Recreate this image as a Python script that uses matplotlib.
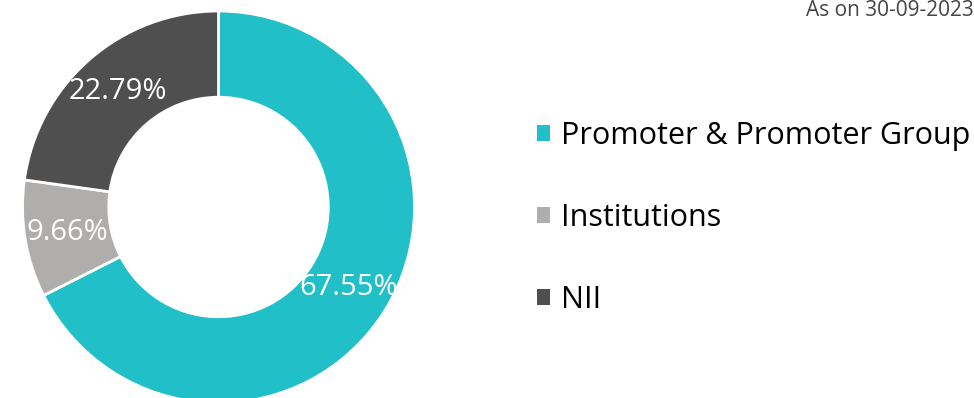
import matplotlib
matplotlib.use('Agg')

import matplotlib.pyplot as plt
from matplotlib.patches import Patch

labels = ["Promoter & Promoter Group", "Institutions", "NII"]
shares = [67.55, 9.66, 22.79]
colors = ["#21bfc8", "#b0adad", "#4f4f4f"]
as_on = "As on 30-09-2023"

plt.rcParams['font.family'] = ['Open Sans', 'DejaVu Sans']

W, H = 974, 398
fig = plt.figure(figsize=(W / 100, H / 100), dpi=100)

# donut axes, placed in pixel terms so the ring sits at the left
cx, cy, r = 218.5, 398 - 207, 196
ax = fig.add_axes([(cx - r) / W, (cy - r) / H, 2 * r / W, 2 * r / H])
wedges, _, autotexts = ax.pie(
    shares, colors=colors, startangle=90, counterclock=False, radius=1,
    autopct=lambda p: f"{p:.2f}%", pctdistance=0.78,
    wedgeprops=dict(width=0.44, edgecolor="white", linewidth=2),
    textprops=dict(color="white", fontsize=21))
ax.set_xlim(-1, 1)
ax.set_ylim(-1, 1)
ax.set_aspect('equal')
ax.axis('off')

handles = [Patch(facecolor=c, edgecolor="none") for c in colors]
fig.legend(handles, labels, loc="upper left", bbox_to_anchor=(522 / W, 1 - 106 / H),
           frameon=False, fontsize=22, handlelength=0.42, handleheight=0.42,
           handletextpad=0.36, labelspacing=1.69, borderpad=0)

fig.text(806 / W, 1 - 11 / H, as_on, fontsize=15, color="#444444",
         ha="left", va="center")

fig.savefig("out.png", dpi=100)
